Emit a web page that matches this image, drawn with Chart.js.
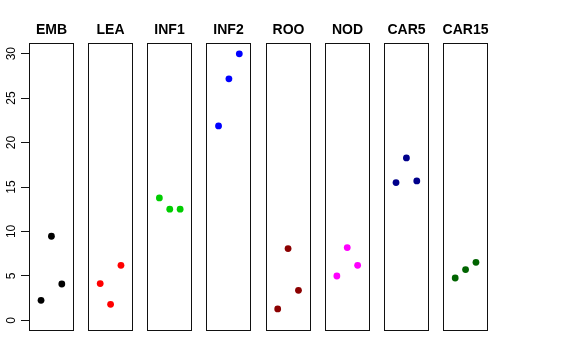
<!DOCTYPE html>
<html><head><meta charset="utf-8">
<script src="https://cdn.jsdelivr.net/npm/chart.js@4/dist/chart.umd.min.js"></script>
<style>html,body{margin:0;padding:0;background:#fff;} #wrap{width:576px;height:360px;position:relative;}</style>
</head><body><div id="wrap"><canvas id="c" width="576" height="360"></canvas></div>
<script>
// ---- data ----
const categories = ['EMB','LEA','INF1','INF2','ROO','NOD','CAR5','CAR15'];
const replicates = [1, 2, 3];
const EMB   = [2.25, 9.46, 4.09];
const LEA   = [4.13, 1.80, 6.19];
const INF1  = [13.77, 12.5, 12.5];
const INF2  = [21.87, 27.17, 29.98];
const ROO   = [1.28, 8.07, 3.38];
const NOD   = [4.99, 8.18, 6.19];
const CAR5  = [15.5, 18.27, 15.68];
const CAR15 = [4.76, 5.71, 6.53];
const yTicks = [0, 5, 10, 15, 20, 25, 30];

// ---- styles / layout ----
const seriesValues = [EMB, LEA, INF1, INF2, ROO, NOD, CAR5, CAR15];
const colors = ['#000000','#FF0000','#00CD00','#0000FF','#8B0000','#FF00FF','#00008B','#006400'];
const STEP = 5.7, XMIN = -0.16, XMAX = 4.16;
const FONT = '"Liberation Sans", Arial, Helvetica, sans-serif';

const datasets = categories.map((cat, i) => ({
  label: cat,
  data: seriesValues[i].map((v, j) => ({ x: i * STEP + replicates[j], y: v })),
  backgroundColor: colors[i],
  borderColor: colors[i],
  borderWidth: 0,
  pointRadius: 3.4,
  pointHoverRadius: 3.4,
  showLine: false
}));

const panelPlugin = {
  id: 'panels',
  afterDraw(chart) {
    const ctx = chart.ctx, xs = chart.scales.x, area = chart.chartArea;
    ctx.save();
    ctx.strokeStyle = '#111';
    ctx.lineWidth = 1;
    const top = Math.round(area.top) + 0.5, bottom = Math.round(area.bottom) - 0.5;
    categories.forEach((cat, i) => {
      const l = Math.round(xs.getPixelForValue(i * STEP + XMIN)) + 0.5;
      const r = Math.round(xs.getPixelForValue(i * STEP + XMAX)) - 0.5;
      ctx.strokeRect(l, top, r - l, bottom - top);
      ctx.fillStyle = '#000';
      ctx.font = 'bold 14px ' + FONT;
      ctx.textAlign = 'center';
      ctx.textBaseline = 'alphabetic';
      ctx.fillText(cat, (l + r) / 2, 34);
    });
    ctx.restore();
  }
};

new Chart(document.getElementById('c'), {
  type: 'scatter',
  data: { datasets },
  options: {
    responsive: false,
    devicePixelRatio: 1,
    animation: false,
    layout: { padding: { top: 43, bottom: 29, left: 0, right: 88 } },
    plugins: { legend: { display: false }, tooltip: { enabled: false }, title: { display: false } },
    scales: {
      x: { type: 'linear', min: XMIN, max: 7 * STEP + XMAX, display: false },
      y: {
        type: 'linear', min: -1.2, max: 31.2,
        afterFit: s => { s.width = 29; },
        afterBuildTicks: s => { s.ticks = yTicks.map(v => ({ value: v })); },
        border: { display: false },
        grid: { display: true, drawOnChartArea: false, drawTicks: true, tickLength: 8, color: '#111' },
        ticks: { minRotation: 90, maxRotation: 90, crossAlign: 'center', padding: 3, color: '#000',
                 font: { family: FONT, size: 12 } }
      }
    }
  },
  plugins: [panelPlugin]
});
</script>
</body></html>
